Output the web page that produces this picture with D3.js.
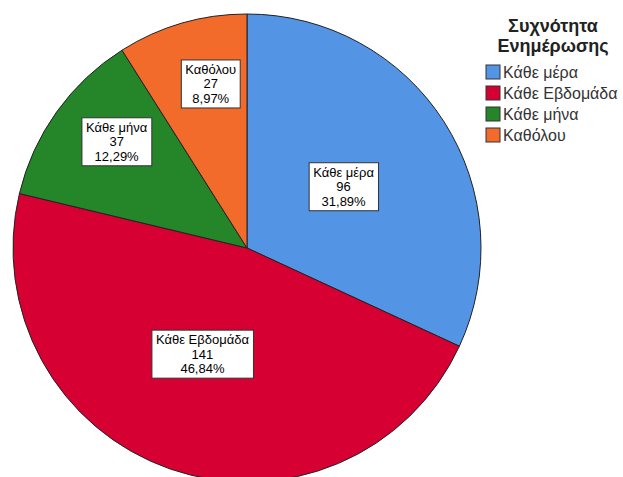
<!DOCTYPE html>
<html><head><meta charset="utf-8">
<script src="https://cdn.jsdelivr.net/npm/d3@7"></script>
<style>body{margin:0;background:#fff}svg{display:block}</style>
</head><body>
<svg id="c" width="623" height="477"></svg>
<script>
const categories = ["Κάθε μέρα","Κάθε Εβδομάδα","Κάθε μήνα","Καθόλου"];
const counts = [96,141,37,27];
const percents = ["31,89%","46,84%","12,29%","8,97%"];
const colors = ["#5494e5","#d70032","#248529","#f26b2b"];
const legendTitle = ["Συχνότητα","Ενημέρωσης"];

const svg = d3.select("#c");
const cx = 247, cy = 248, R = 234;
const g = svg.append("g").attr("transform",`translate(${cx},${cy})`);
const pie = d3.pie().sort(null).value(d=>d)(counts);
const arc = d3.arc().innerRadius(0).outerRadius(R);
g.selectAll("path.s").data(pie).enter().append("path")
  .attr("d",arc).attr("fill",(d,i)=>colors[i])
  .attr("stroke","#222").attr("stroke-width",1);

const total = d3.sum(counts);
pie.forEach((d,i)=>{
  const frac = counts[i]/total;
  const lr = frac < 0.15 ? R*0.72 : R*0.49;
  const mid = (d.startAngle+d.endAngle)/2 + (i>0 ? 0.065 : 0);
  const x = lr*Math.sin(mid), y = -lr*Math.cos(mid);
  const lines = [categories[i], String(counts[i]), percents[i]];
  const lg = g.append("g").attr("transform",`translate(${x},${y})`);
  const t = lg.append("text").attr("text-anchor","middle")
    .attr("font-family","Liberation Sans, Arial, sans-serif").attr("font-size",13).attr("fill","#000");
  lines.forEach((s,j)=>t.append("tspan").attr("x",0).attr("y",(j-1)*14.5+5).text(s));
  const bb = t.node().getBBox();
  lg.insert("rect","text").attr("x",bb.x-4).attr("y",bb.y-2).attr("width",bb.width+8).attr("height",bb.height+4)
    .attr("fill","#fff").attr("stroke","#333").attr("stroke-width",1);
});

const lx = 553;
svg.append("text").attr("text-anchor","middle").attr("font-family","Liberation Sans, Arial, sans-serif")
  .attr("font-size",18).attr("font-weight","bold").attr("fill","#222")
  .selectAll("tspan").data(legendTitle).enter().append("tspan").attr("x",lx).attr("y",(d,i)=>32+i*20).text(d=>d);
const leg = svg.append("g");
categories.forEach((c,i)=>{
  const y = 65 + i*21;
  leg.append("rect").attr("x",486).attr("y",y).attr("width",14).attr("height",14)
    .attr("fill",colors[i]).attr("stroke","#333").attr("stroke-width",1);
  leg.append("text").attr("x",503).attr("y",y+13).attr("font-family","Liberation Sans, Arial, sans-serif")
    .attr("font-size",16).attr("fill","#333").text(c);
});
</script>
</body></html>
